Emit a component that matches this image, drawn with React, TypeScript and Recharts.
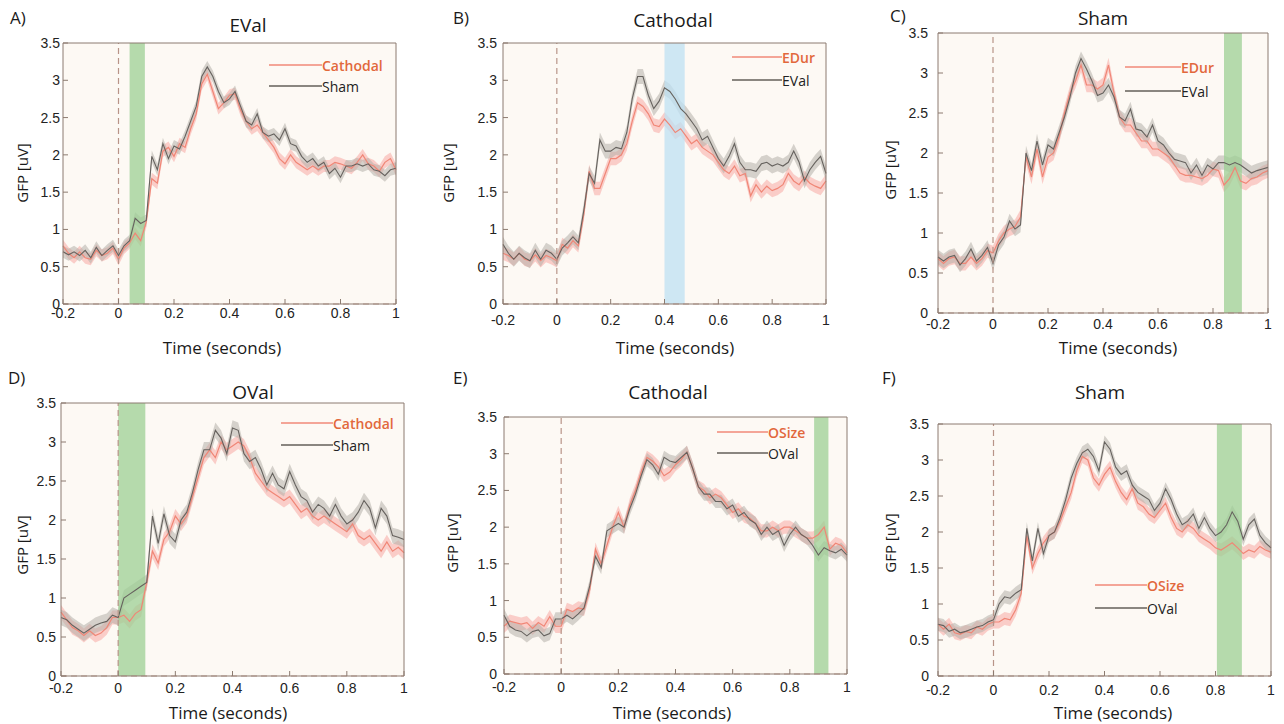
import React from 'react';
import { ComposedChart, Area, Line, XAxis, YAxis, ReferenceArea, ReferenceLine, CartesianGrid } from 'recharts';

// time axis (s), sampled every 20 ms
const TIME = Array.from({ length: 61 }, (_, i) => Math.round((-0.2 + i * 0.02) * 100) / 100);
const X_TICKS = [-0.2, 0, 0.2, 0.4, 0.6, 0.8, 1];
const Y_TICKS = [0, 0.5, 1, 1.5, 2, 2.5, 3, 3.5];

// A) EVal
const A_CATHODAL = [
  0.78, 0.68, 0.62, 0.70, 0.62, 0.60, 0.72, 0.65, 0.68, 0.75,
  0.60, 0.75, 0.82, 0.95, 0.85, 1.10, 1.68, 1.62, 2.05, 2.10,
  1.98, 2.15, 2.10, 2.35, 2.55, 2.95, 3.08, 2.85, 2.62, 2.70,
  2.80, 2.82, 2.60, 2.45, 2.35, 2.40, 2.30, 2.20, 2.10, 1.95,
  1.88, 2.00, 1.90, 1.85, 1.80, 1.85, 1.80, 1.85, 1.85, 1.90,
  1.88, 1.85, 1.82, 1.90, 2.00, 1.88, 1.85, 1.78, 1.90, 1.95,
  1.80,
];
const A_SHAM = [
  0.70, 0.66, 0.70, 0.65, 0.72, 0.62, 0.76, 0.65, 0.72, 0.78,
  0.65, 0.78, 0.85, 1.15, 1.08, 1.12, 1.98, 1.80, 2.15, 1.95,
  2.12, 2.08, 2.25, 2.45, 2.65, 3.05, 3.18, 3.05, 2.85, 2.70,
  2.75, 2.85, 2.65, 2.45, 2.40, 2.55, 2.30, 2.25, 2.28, 2.20,
  2.35, 2.15, 2.12, 1.98, 1.90, 1.95, 1.85, 1.90, 1.75, 1.82,
  1.70, 1.85, 1.85, 1.88, 1.85, 1.88, 1.80, 1.78, 1.72, 1.80,
  1.82,
];

// B) Cathodal
const B_EDUR = [
  0.68, 0.65, 0.60, 0.68, 0.60, 0.58, 0.66, 0.58, 0.65, 0.62,
  0.58, 0.80, 0.75, 0.85, 0.78, 1.20, 1.78, 1.55, 1.55, 1.75,
  1.95, 1.95, 2.00, 2.15, 2.45, 2.70, 2.65, 2.55, 2.40, 2.38,
  2.48, 2.40, 2.30, 2.35, 2.25, 2.15, 2.20, 2.10, 2.05, 2.00,
  1.90, 1.80, 1.75, 1.85, 1.72, 1.75, 1.45, 1.60, 1.50, 1.58,
  1.52, 1.55, 1.60, 1.75, 1.65, 1.60, 1.70, 1.62, 1.58, 1.55,
  1.65,
];
const B_EVAL = [
  0.80, 0.68, 0.60, 0.68, 0.62, 0.58, 0.72, 0.60, 0.72, 0.68,
  0.60, 0.75, 0.82, 0.90, 0.82, 1.25, 1.75, 1.62, 2.20, 2.05,
  2.05, 2.10, 2.08, 2.30, 2.75, 3.05, 3.05, 2.80, 2.62, 2.72,
  2.90, 2.85, 2.75, 2.62, 2.55, 2.45, 2.35, 2.20, 2.25, 2.10,
  1.95, 1.85, 1.98, 2.15, 1.90, 1.80, 1.80, 1.78, 1.88, 1.90,
  1.85, 1.88, 1.85, 1.90, 2.05, 1.90, 1.65, 1.80, 1.90, 1.98,
  1.75,
];

// C) Sham
const C_EDUR = [
  0.68, 0.62, 0.68, 0.70, 0.62, 0.62, 0.70, 0.62, 0.68, 0.78,
  0.75, 0.90, 1.00, 1.05, 1.08, 1.20, 1.95, 1.70, 2.05, 1.70,
  1.95, 2.00, 2.20, 2.50, 2.75, 2.90, 3.10, 2.85, 2.85, 2.80,
  2.85, 3.10, 2.75, 2.45, 2.35, 2.35, 2.25, 2.15, 2.15, 2.05,
  2.05, 2.00, 1.95, 1.85, 1.75, 1.72, 1.72, 1.70, 1.68, 1.72,
  1.80, 1.78, 1.60, 1.68, 1.82, 1.65, 1.62, 1.68, 1.70, 1.75,
  1.78,
];
const C_EVAL = [
  0.70, 0.65, 0.70, 0.72, 0.60, 0.68, 0.80, 0.65, 0.72, 0.82,
  0.62, 0.85, 0.95, 1.15, 1.05, 1.10, 2.00, 1.78, 2.15, 1.85,
  2.10, 2.05, 2.25, 2.45, 2.70, 3.00, 3.18, 3.05, 2.90, 2.72,
  2.75, 2.85, 2.70, 2.45, 2.40, 2.55, 2.30, 2.28, 2.20, 2.35,
  2.15, 2.10, 2.00, 1.92, 1.90, 1.88, 1.75, 1.85, 1.72, 1.85,
  1.80, 1.88, 1.88, 1.85, 1.88, 1.85, 1.80, 1.75, 1.78, 1.80,
  1.82,
];

// D) OVal
const D_CATHODAL = [
  0.82, 0.72, 0.62, 0.58, 0.52, 0.58, 0.52, 0.55, 0.62, 0.75,
  0.75, 0.78, 0.70, 0.80, 0.85, 1.20, 1.60, 1.45, 1.75, 1.85,
  2.05, 1.95, 2.05, 2.30, 2.55, 2.80, 2.90, 2.80, 3.00, 2.90,
  2.95, 3.00, 2.95, 2.80, 2.60, 2.50, 2.40, 2.35, 2.30, 2.25,
  2.30, 2.20, 2.10, 2.15, 2.05, 2.00, 2.05, 2.00, 1.95, 1.90,
  1.85, 1.95, 1.80, 1.75, 1.80, 1.70, 1.60, 1.72, 1.60, 1.65,
  1.58,
];
const D_SHAM = [
  0.75, 0.72, 0.65, 0.60, 0.55, 0.60, 0.65, 0.68, 0.70, 0.78,
  0.75, 1.00, 1.05, 1.10, 1.15, 1.20, 2.05, 1.70, 2.08, 1.80,
  1.72, 2.00, 2.10, 2.35, 2.65, 2.90, 2.90, 3.15, 3.05, 2.85,
  3.18, 3.15, 2.85, 2.75, 2.80, 2.65, 2.45, 2.60, 2.45, 2.40,
  2.62, 2.45, 2.30, 2.25, 2.10, 2.20, 2.15, 2.05, 2.20, 2.05,
  1.95, 2.00, 2.10, 2.25, 2.15, 1.90, 2.15, 2.05, 1.80, 1.78,
  1.75,
];

// E) Cathodal
const E_OSIZE = [
  0.65, 0.72, 0.70, 0.68, 0.70, 0.62, 0.70, 0.65, 0.78, 0.65,
  0.65, 0.88, 0.85, 0.90, 0.88, 1.15, 1.70, 1.50, 1.75, 2.00,
  2.20, 2.00, 2.30, 2.50, 2.75, 2.95, 2.90, 2.82, 2.70, 2.75,
  2.85, 2.92, 3.02, 2.80, 2.55, 2.50, 2.40, 2.45, 2.40, 2.30,
  2.20, 2.25, 2.15, 2.12, 2.05, 1.95, 1.95, 2.00, 1.95, 2.00,
  2.00, 1.95, 1.90, 1.85, 1.85, 1.90, 2.00, 1.70, 1.78, 1.75,
  1.65,
];
const E_OVAL = [
  0.80, 0.65, 0.60, 0.58, 0.52, 0.58, 0.60, 0.52, 0.55, 0.75,
  0.75, 0.80, 0.75, 0.82, 0.90, 1.20, 1.60, 1.45, 1.95, 2.00,
  2.05, 2.00, 2.25, 2.45, 2.70, 2.92, 2.85, 2.72, 2.95, 2.90,
  2.88, 2.95, 3.02, 2.80, 2.55, 2.45, 2.45, 2.35, 2.35, 2.25,
  2.30, 2.15, 2.20, 2.10, 2.05, 1.90, 2.00, 1.90, 1.95, 1.75,
  1.90, 2.00, 1.90, 1.85, 1.75, 1.62, 1.72, 1.68, 1.65, 1.70,
  1.62,
];

// F) Sham
const F_OSIZE = [
  0.72, 0.65, 0.72, 0.60, 0.58, 0.62, 0.60, 0.68, 0.65, 0.72,
  0.75, 0.75, 0.80, 0.78, 0.92, 1.15, 1.95, 1.50, 1.70, 1.85,
  1.95, 2.00, 2.15, 2.35, 2.55, 2.85, 3.05, 3.00, 2.75, 2.65,
  2.80, 2.90, 2.70, 2.55, 2.45, 2.60, 2.40, 2.35, 2.25, 2.20,
  2.30, 2.40, 2.20, 2.05, 2.00, 2.10, 2.05, 1.95, 1.90, 1.85,
  1.78, 1.75, 1.80, 1.85, 1.78, 1.70, 1.75, 1.72, 1.80, 1.75,
  1.72,
];
const F_OVAL = [
  0.72, 0.70, 0.62, 0.65, 0.60, 0.62, 0.65, 0.68, 0.70, 0.75,
  0.78, 1.00, 1.10, 1.08, 1.15, 1.20, 2.05, 1.60, 2.05, 1.70,
  1.95, 2.00, 2.20, 2.45, 2.75, 2.95, 3.10, 3.15, 3.05, 2.85,
  3.25, 3.15, 2.90, 2.80, 2.85, 2.65, 2.55, 2.50, 2.45, 2.30,
  2.40, 2.60, 2.45, 2.25, 2.10, 2.15, 2.25, 2.05, 2.20, 2.05,
  1.95, 2.00, 2.10, 2.28, 2.15, 1.90, 2.10, 2.18, 1.95, 1.85,
  1.78,
];

const RED_LINE = '#f08676';
const RED_BAND = '#f7a9a4';
const GRAY_LINE = '#66625e';
const GRAY_BAND = '#b5b0a9';
const AXIS = '#8c7b70';
const GREEN = '#9ccf94';
const BLUE = '#bde0f3';
const TEXT_FONT = '"Open Sans", "Liberation Sans", sans-serif';
const TICK_FONT = '"Liberation Sans", Arial, sans-serif';

const panels = [
  {
    letter: 'A)', title: 'EVal', plot: [63, 43, 396, 304], xGap: 4, yGap: 3,
    red: A_CATHODAL, gray: A_SHAM, redName: 'Cathodal', grayName: 'Sham', redSe: 0.08, graySe: 0.08,
    shade: [0.04, 0.095], shadeColor: GREEN,
    titleAt: [248, 25], letterAt: [10, 17], yLabelAt: [22, 173], xLabelAt: [222, 347],
    legendAt: [269, 53, 65, 86],
  },
  {
    letter: 'B)', title: 'Cathodal', plot: [503, 43, 826, 304], xGap: 11, yGap: 6,
    red: B_EDUR, gray: B_EVAL, redName: 'EDur', grayName: 'EVal', redSe: 0.09, graySe: 0.1,
    shade: [0.4, 0.475], shadeColor: BLUE,
    titleAt: [673, 20], letterAt: [453, 17], yLabelAt: [448, 173], xLabelAt: [675, 347],
    legendAt: [732, 50, 57, 80],
  },
  {
    letter: 'C)', title: 'Sham', plot: [938, 33, 1268, 313], xGap: 6, yGap: 10,
    red: C_EDUR, gray: C_EVAL, redName: 'EDur', grayName: 'EVal', redSe: 0.09, graySe: 0.09,
    shade: [0.84, 0.905], shadeColor: GREEN,
    titleAt: [1103, 18], letterAt: [890, 15], yLabelAt: [890, 170], xLabelAt: [1118, 347],
    legendAt: [1125, 56, 67, 91],
  },
  {
    letter: 'D)', title: 'OVal', plot: [61, 403, 404, 676], xGap: 7, yGap: 5,
    red: D_CATHODAL, gray: D_SHAM, redName: 'Cathodal', grayName: 'Sham', redSe: 0.09, graySe: 0.1,
    shade: [0, 0.095], shadeColor: GREEN,
    titleAt: [253, 392], letterAt: [8, 377], yLabelAt: [22, 545], xLabelAt: [228, 712],
    legendAt: [281, 52, 423, 445],
  },
  {
    letter: 'E)', title: 'Cathodal', plot: [504, 417, 847, 674], xGap: 8, yGap: 7,
    red: E_OSIZE, gray: E_OVAL, redName: 'OSize', grayName: 'OVal', redSe: 0.09, graySe: 0.09,
    shade: [0.885, 0.935], shadeColor: GREEN,
    titleAt: [668, 392], letterAt: [453, 377], yLabelAt: [452, 543], xLabelAt: [672, 712],
    legendAt: [717, 51, 432, 453],
  },
  {
    letter: 'F)', title: 'Sham', plot: [938, 424, 1271, 676], xGap: 9, yGap: 9,
    red: F_OSIZE, gray: F_OVAL, redName: 'OSize', grayName: 'OVal', redSe: 0.09, graySe: 0.09,
    shade: [0.805, 0.895], shadeColor: GREEN,
    titleAt: [1100, 392], letterAt: [882, 377], yLabelAt: [890, 543], xLabelAt: [1113, 712],
    legendAt: [1095, 52, 585, 608],
  },
];

const centered = (x: number, y: number, extra: React.CSSProperties = {}): React.CSSProperties => ({
  position: 'absolute', left: x, top: y, transform: 'translate(-50%, -50%)',
  whiteSpace: 'nowrap', fontFamily: TEXT_FONT, color: '#1a1a1a', ...extra,
});

const LegendRow = ({ x, w, y, color, textColor, name, weight }: any) => (
  <div style={{ position: 'absolute', left: x, top: y - 10, height: 20, display: 'flex', alignItems: 'center' }}>
    <div style={{ width: w, height: 1.5, background: color }} />
    <span style={{ fontFamily: TEXT_FONT, fontSize: 14, color: textColor, fontWeight: weight }}>{name}</span>
  </div>
);

const Panel = ({ p }: { p: any }) => {
  const [x0, y0, x1, y1] = p.plot;
  const data = TIME.map((t, i) => ({
    t,
    red: p.red[i],
    gray: p.gray[i],
    redBand: [p.red[i] - p.redSe, p.red[i] + p.redSe],
    grayBand: [p.gray[i] - p.graySe, p.gray[i] + p.graySe],
  }));
  const [lx, lw, ly1, ly2] = p.legendAt;

  return (
    <>
      <div style={{ position: 'absolute', left: x0 - 60, top: y0 - 10 }}>
        <ComposedChart
          width={x1 - x0 + 70}
          height={y1 - y0 + 50}
          data={data}
          margin={{ top: 9, right: 9, left: 0, bottom: 0 }}
        >
          <CartesianGrid horizontal={false} vertical={false} fill="#fdf9f4" />
          <XAxis
            dataKey="t" type="number" domain={[-0.2, 1]} ticks={X_TICKS} interval={0}
            height={40} tickSize={-5} tickMargin={5 + p.xGap} stroke={AXIS}
            tick={{ fill: '#222', fontSize: 14, fontFamily: TICK_FONT }}
          />
          <XAxis
            xAxisId="top" orientation="top" dataKey="t" type="number" domain={[-0.2, 1]}
            ticks={X_TICKS} interval={0} height={1} tickSize={-5} tick={false} stroke={AXIS}
          />
          <YAxis
            type="number" domain={[0, 3.5]} ticks={Y_TICKS} interval={0}
            width={60} tickSize={-5} tickMargin={5 + p.yGap} stroke={AXIS}
            tick={{ fill: '#222', fontSize: 14, fontFamily: TICK_FONT }}
          />
          <YAxis
            yAxisId="right" orientation="right" type="number" domain={[0, 3.5]} ticks={Y_TICKS}
            interval={0} width={1} tickSize={-5} tick={false} stroke={AXIS}
          />
          <Area dataKey="redBand" type="linear" stroke="none" fill={RED_BAND} fillOpacity={0.55} isAnimationActive={false} />
          <Area dataKey="grayBand" type="linear" stroke="none" fill={GRAY_BAND} fillOpacity={0.55} isAnimationActive={false} />
          <Line dataKey="red" type="linear" stroke={RED_LINE} strokeWidth={1.2} dot={false} isAnimationActive={false} />
          <Line dataKey="gray" type="linear" stroke={GRAY_LINE} strokeWidth={1.1} dot={false} isAnimationActive={false} />
          <ReferenceArea x1={p.shade[0]} x2={p.shade[1]} y1={0} y2={3.5} fill={p.shadeColor} fillOpacity={0.75} stroke="none" />
          <ReferenceLine x={0} stroke="#b89488" strokeDasharray="6 4" strokeWidth={1.2} />
          <ReferenceLine y={0} stroke="#c49d92" strokeDasharray="6 4" strokeWidth={1.2} />
        </ComposedChart>
      </div>
      <div style={centered(p.titleAt[0], p.titleAt[1], { fontSize: 19 })}>{p.title}</div>
      <div style={{ position: 'absolute', left: p.letterAt[0], top: p.letterAt[1] - 11, fontFamily: TEXT_FONT, fontSize: 17, color: '#1a1a1a' }}>{p.letter}</div>
      <div style={centered(p.yLabelAt[0], p.yLabelAt[1], { fontSize: 15, transform: 'translate(-50%, -50%) rotate(-90deg)' })}>GFP [uV]</div>
      <div style={centered(p.xLabelAt[0], p.xLabelAt[1], { fontSize: 17 })}>Time (seconds)</div>
      <LegendRow x={lx} w={lw} y={ly1} color="#f4a597" textColor="#e2683c" name={p.redName} weight={600} />
      <LegendRow x={lx} w={lw} y={ly2} color="#8a8680" textColor="#222" name={p.grayName} weight={400} />
    </>
  );
};

export default function App() {
  return (
    <div style={{ position: 'relative', width: 1284, height: 724, background: '#fff', overflow: 'hidden' }}>
      <style>{'body { margin: 0; }'}</style>
      {panels.map((p) => (
        <Panel key={p.letter} p={p} />
      ))}
    </div>
  );
}
